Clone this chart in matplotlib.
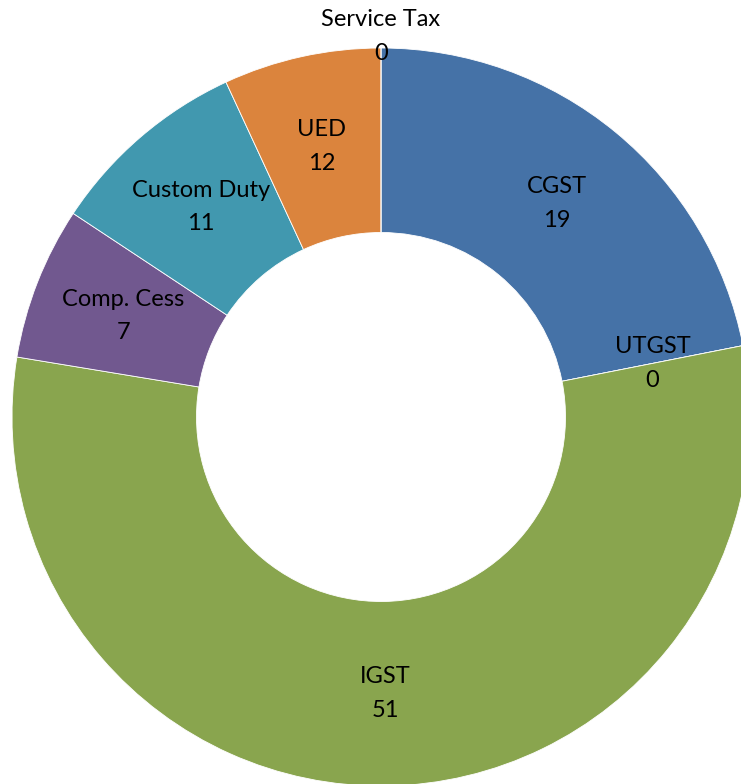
import numpy as np
import matplotlib
matplotlib.use("Agg")
import matplotlib.pyplot as plt

# categories in clockwise order from 12 o'clock
categories = ["CGST", "UTGST", "IGST", "Comp. Cess", "Custom Duty", "UED", "Service Tax"]
# slice sizes as drawn in the picture (percent of ring)
shares = [21.9, 0.0, 55.7, 6.7, 8.8, 6.9, 0.0]
# numbers printed on the labels
label_values = [19, 0, 51, 7, 11, 12, 0]
colors = ["#4572A7", "#4572A7", "#89A54E", "#71588F", "#4198AF", "#DB843D", "#DB843D"]

plt.rcParams["font.family"] = ["Lato", "DejaVu Sans"]

fig = plt.figure(figsize=(7.41, 7.84), dpi=100)
ax = fig.add_axes([0, 0, 1, 1])

R = 1.0
hole = 0.5
ax.pie(shares, colors=colors, startangle=90, counterclock=False, radius=R,
       wedgeprops=dict(width=R - hole, edgecolor="white", linewidth=0.6))

# labels sit mid-ring at the slice mid-angle; the top one goes outside
radius_override = {"Service Tax": 1.032}
cum = np.cumsum([0] + shares[:-1])
total = sum(shares)
for name, start, size, val in zip(categories, cum, shares, label_values):
    ang = (start + size / 2) / total * 360
    r = radius_override.get(name, (R + hole) / 2)
    x = r * np.sin(np.radians(ang))
    y = r * np.cos(np.radians(ang))
    ax.text(x, y, f"{name}\n{val}", ha="center", va="center", fontsize=17,
            linespacing=1.75, color="black")

# place centre at (381, 417) px with radius 369 px
px = 369.0
ax.set_xlim(-381 / px, (741 - 381) / px)
ax.set_ylim(-(784 - 417) / px, 417 / px)
ax.set_aspect("auto")
ax.axis("off")

fig.savefig("out.png", dpi=100, facecolor="white")
